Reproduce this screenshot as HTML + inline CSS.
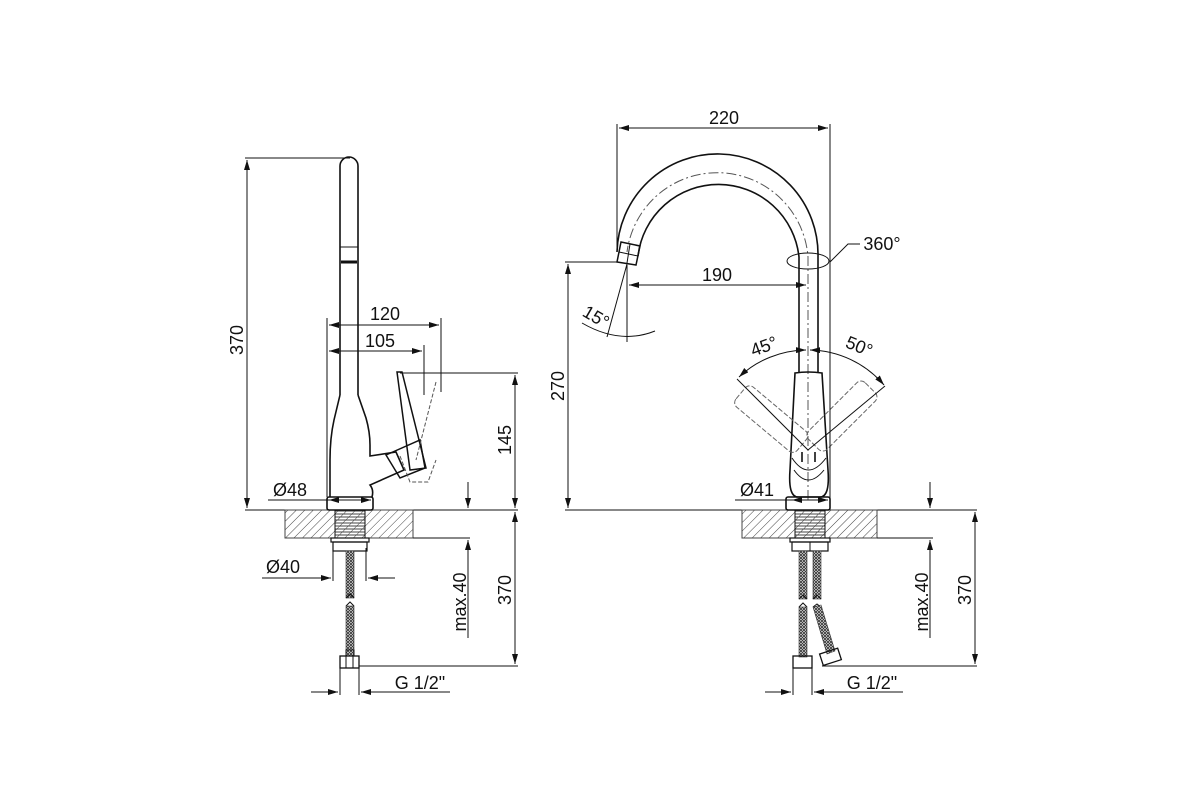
<!DOCTYPE html>
<html><head><meta charset="utf-8"><style>html,body{margin:0;padding:0;background:#fff}svg{display:block}text{font-family:"Liberation Sans",Arial,sans-serif;font-size:18px;fill:#111}</style></head>
<body>
<svg width="1200" height="800" viewBox="0 0 1200 800" xmlns="http://www.w3.org/2000/svg">
<defs>
<pattern id="h" width="6" height="6" patternUnits="userSpaceOnUse" patternTransform="rotate(45)"><line x1="0" y1="0" x2="0" y2="6" stroke="#444" stroke-width="1"/></pattern>
<pattern id="th" width="4" height="3" patternUnits="userSpaceOnUse"><line x1="0" y1="1" x2="4" y2="1" stroke="#444" stroke-width="1"/></pattern>
<pattern id="br" width="3" height="3" patternUnits="userSpaceOnUse"><rect width="3" height="3" fill="#fff"/><path d="M0 0L3 3M3 0L0 3" stroke="#333" stroke-width="0.9"/></pattern>
<marker id="a" viewBox="0 0 10 6" refX="10" refY="3" markerWidth="10" markerHeight="6" orient="auto-start-reverse"><path d="M0 0L10 3L0 6z" fill="#111"/></marker>
</defs>
<g fill="none" stroke="#111" stroke-width="1">
<!-- LEFT -->
<line x1="245" y1="510" x2="518" y2="510"/>
<rect x="285" y="510" width="128" height="28" fill="url(#h)" stroke="#444"/>
<rect x="335" y="510" width="30" height="28" fill="url(#th)"/>
<rect x="331" y="538" width="38" height="4" stroke-width="1.2"/>
<rect x="333" y="542" width="34" height="9" stroke-width="1.2"/>
<rect x="346" y="551" width="8" height="47" fill="url(#br)" stroke="#333" stroke-width="0.6"/>
<path d="M346 598l4 -4l4 4M346 606l4-4l4 4" stroke-width="1"/>
<rect x="346" y="606" width="8" height="50" fill="url(#br)" stroke="#333" stroke-width="0.6"/>
<rect x="346" y="650" width="8" height="6"/>
<rect x="340" y="656" width="19" height="12" stroke-width="1.3"/>
<line x1="346" y1="656" x2="346" y2="668"/><line x1="353" y1="656" x2="353" y2="668"/>
<!-- tube -->
<path d="M340 395V166a9 9 0 0 1 18 0V395" stroke-width="1.6"/>
<line x1="340" y1="247" x2="358" y2="247"/>
<path d="M341 262h16" stroke-width="3"/>
<path d="M340 395L334 420Q330 438 330 460V497M358 395L366 418Q370 432 370 445V456L396 452L404 470L370 485Q374 490 372 497" stroke-width="1.6"/>
<rect x="327" y="497" width="46" height="13" rx="2" stroke-width="1.6"/>
<!-- handle -->
<path d="M397 372L402 372L426 468L410 470L397 372Z" stroke-width="1.5"/>
<path d="M386 455L420 440L425 468L400 478Z" stroke-width="1.5"/>
<path d="M436 382L416 460M400 456L410 482L428 482L436 460" stroke-dasharray="4 2" stroke="#555"/>
<!-- dims left -->
<line x1="245" y1="158" x2="350" y2="158"/>
<line x1="247" y1="160" x2="247" y2="508" marker-start="url(#a)" marker-end="url(#a)"/>
<line x1="327" y1="318" x2="327" y2="497"/>
<line x1="441" y1="318" x2="441" y2="392"/>
<line x1="424" y1="345" x2="424" y2="395"/>
<line x1="329" y1="325" x2="439" y2="325" marker-start="url(#a)" marker-end="url(#a)"/>
<line x1="329" y1="351" x2="422" y2="351" marker-start="url(#a)" marker-end="url(#a)"/>
<line x1="400" y1="373" x2="518" y2="373"/>
<line x1="515" y1="375" x2="515" y2="508" marker-start="url(#a)" marker-end="url(#a)"/>
<line x1="268" y1="500" x2="329" y2="500"/>
<line x1="329" y1="500" x2="371" y2="500" marker-start="url(#a)" marker-end="url(#a)"/>
<line x1="413" y1="538" x2="470" y2="538"/>
<line x1="468" y1="482" x2="468" y2="508" marker-end="url(#a)"/>
<line x1="468" y1="638" x2="468" y2="540" marker-end="url(#a)"/>
<line x1="515" y1="512" x2="515" y2="664" marker-start="url(#a)" marker-end="url(#a)"/>
<line x1="359" y1="666" x2="518" y2="666"/>
<line x1="333" y1="548" x2="333" y2="581"/><line x1="366" y1="548" x2="366" y2="581"/>
<line x1="262" y1="578" x2="331" y2="578" marker-end="url(#a)"/>
<line x1="395" y1="578" x2="368" y2="578" marker-end="url(#a)"/>
<line x1="340" y1="668" x2="340" y2="695"/><line x1="359" y1="668" x2="359" y2="695"/>
<line x1="311" y1="692" x2="338" y2="692" marker-end="url(#a)"/>
<line x1="450" y1="692" x2="361" y2="692" marker-end="url(#a)"/>
<!-- RIGHT -->
<line x1="565" y1="510" x2="977" y2="510"/>
<rect x="742" y="510" width="135" height="28" fill="url(#h)" stroke="#444"/>
<rect x="795" y="510" width="30" height="28" fill="url(#th)"/>
<rect x="790" y="538" width="40" height="4" stroke-width="1.2"/>
<rect x="792" y="542" width="36" height="9" stroke-width="1.2"/><line x1="810" y1="542" x2="810" y2="551"/>
<rect x="799" y="551" width="8" height="48" fill="url(#br)" stroke="#333" stroke-width="0.6"/>
<rect x="813" y="551" width="8" height="48" fill="url(#br)" stroke="#333" stroke-width="0.6"/>
<path d="M799 599l4-4l4 4M799 607l4-4l4 4M813 599l4-4l4 4M813 607l4-3l5 4"/>
<rect x="799" y="607" width="8" height="50" fill="url(#br)" stroke="#333" stroke-width="0.6"/>
<path d="M813 607l8-2l14 46l-8 3z" fill="url(#br)" stroke="#333" stroke-width="0.6"/>
<rect x="793" y="656" width="19" height="12" stroke-width="1.3"/>
<g transform="rotate(-18 830 657)"><rect x="821" y="651" width="19" height="12" stroke-width="1.3"/></g>
<!-- spout -->
<path d="M818 372V257A100 100 0 0 0 617 252" stroke-width="1.6"/>
<path d="M799 372V257A81 81 0 0 0 638 256" stroke-width="1.6"/>
<path d="M808 500V257A91 91 0 0 0 627 252" stroke-dasharray="10 3 2 3" stroke="#555"/>
<path d="M621 242L640 246L636 265L617 262Z" stroke-width="1.5"/>
<line x1="619" y1="252" x2="638" y2="256"/><line x1="630" y1="244" x2="627" y2="263"/>
<ellipse cx="808" cy="261" rx="21" ry="8"/>
<path d="M830 262L848 244H860"/>
<!-- body -->
<path d="M795 373Q808 371 822 373L828 470Q830 497 820 497H798Q788 497 790 470Z" stroke-width="1.6"/>
<path d="M792 458Q808 482 826 458M794 470Q808 490 824 470" />
<line x1="802" y1="452" x2="802" y2="462" stroke-width="1.6"/><line x1="815" y1="452" x2="815" y2="462" stroke-width="1.6"/>
<rect x="786" y="497" width="44" height="13" rx="2" stroke-width="1.6"/>
<g stroke="#666" stroke-dasharray="5 2">
<g transform="rotate(45 808 450)"><rect x="795" y="362" width="26" height="80" rx="6"/></g>
<g transform="rotate(-50 808 450)"><rect x="795" y="362" width="26" height="80" rx="6"/></g>
</g>
<line x1="737" y1="379" x2="808" y2="450"/><line x1="885" y1="386" x2="808" y2="450"/>
<path d="M739 377A100 100 0 0 1 806 350" marker-start="url(#a)" marker-end="url(#a)"/>
<path d="M810 350A100 100 0 0 1 884 385" marker-start="url(#a)" marker-end="url(#a)"/>
<!-- dims right -->
<line x1="617" y1="124" x2="617" y2="250"/>
<line x1="830" y1="124" x2="830" y2="510"/>
<line x1="619" y1="128" x2="828" y2="128" marker-start="url(#a)" marker-end="url(#a)"/>
<line x1="629" y1="285" x2="806" y2="285" marker-start="url(#a)" marker-end="url(#a)"/>
<line x1="627" y1="265" x2="627" y2="342"/>
<line x1="627" y1="264" x2="607" y2="337"/>
<path d="M582 323Q620 345 655 331"/>
<line x1="565" y1="262" x2="617" y2="262"/>
<line x1="568" y1="264" x2="568" y2="508" marker-start="url(#a)" marker-end="url(#a)"/>
<line x1="735" y1="500" x2="792" y2="500"/>
<line x1="792" y1="500" x2="828" y2="500" marker-start="url(#a)" marker-end="url(#a)"/>
<line x1="877" y1="538" x2="933" y2="538"/>
<line x1="930" y1="482" x2="930" y2="508" marker-end="url(#a)"/>
<line x1="930" y1="638" x2="930" y2="540" marker-end="url(#a)"/>
<line x1="975" y1="512" x2="975" y2="664" marker-start="url(#a)" marker-end="url(#a)"/>
<line x1="822" y1="666" x2="977" y2="666"/>
<line x1="793" y1="668" x2="793" y2="695"/><line x1="812" y1="668" x2="812" y2="695"/>
<line x1="765" y1="692" x2="791" y2="692" marker-end="url(#a)"/>
<line x1="903" y1="692" x2="814" y2="692" marker-end="url(#a)"/>
</g>
<g>
<text x="237" y="340" text-anchor="middle" transform="rotate(-90 237 340)" dy="6">370</text>
<text x="385" y="320" text-anchor="middle">120</text>
<text x="380" y="347" text-anchor="middle">105</text>
<text x="505" y="440" text-anchor="middle" transform="rotate(-90 505 440)" dy="6">145</text>
<text x="290" y="496" text-anchor="middle">Ø48</text>
<text x="283" y="573" text-anchor="middle">Ø40</text>
<text x="460" y="602" text-anchor="middle" transform="rotate(-90 460 602)" dy="6">max.40</text>
<text x="505" y="590" text-anchor="middle" transform="rotate(-90 505 590)" dy="6">370</text>
<text x="420" y="689" text-anchor="middle">G 1/2"</text>
<text x="724" y="124" text-anchor="middle">220</text>
<text x="717" y="281" text-anchor="middle">190</text>
<text x="882" y="250" text-anchor="middle">360°</text>
<text x="593" y="322" text-anchor="middle" transform="rotate(30 593 322)">15°</text>
<text x="558" y="386" text-anchor="middle" transform="rotate(-90 558 386)" dy="6">270</text>
<text x="766" y="352" text-anchor="middle" transform="rotate(-20 766 352)">45°</text>
<text x="857" y="352" text-anchor="middle" transform="rotate(22 857 352)">50°</text>
<text x="757" y="496" text-anchor="middle">Ø41</text>
<text x="922" y="602" text-anchor="middle" transform="rotate(-90 922 602)" dy="6">max.40</text>
<text x="965" y="590" text-anchor="middle" transform="rotate(-90 965 590)" dy="6">370</text>
<text x="872" y="689" text-anchor="middle">G 1/2"</text>
</g>
</svg>
</body></html>
